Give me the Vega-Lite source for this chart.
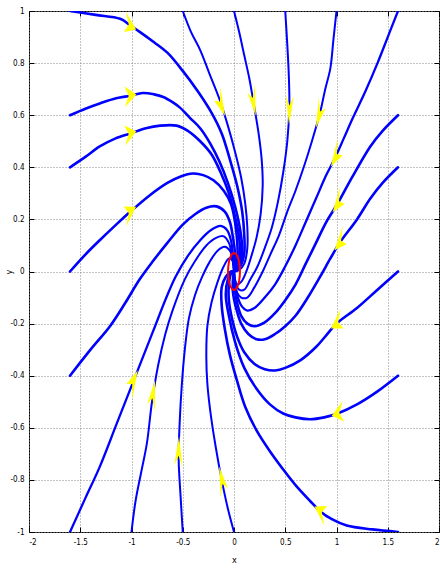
{
 "$schema": "https://vega.github.io/schema/vega-lite/v6.json",
 "width": 410, "height": 521,
 "autosize": {"type": "none"},
 "padding": {"left": 29, "top": 11, "right": 1, "bottom": 38},
 "background": "white",
 "config": {
  "view": {"stroke": "black", "strokeWidth": 1},
  "axis": {"labelFont": "Liberation Sans Narrow, DejaVu Sans Condensed, sans-serif", "labelFontSize": 8, "labelColor": "black",
           "titleFont": "Liberation Sans Narrow, DejaVu Sans Condensed, sans-serif", "titleFontSize": 9, "titleFontWeight": "normal", "titleColor": "black",
           "tickColor": "black", "domainColor": "black"}
 },
 "datasets": {
  "traj": [
   {"t":"L1","set":"A","x":-1.6,"y":1.0},{"t":"L1","set":"A","x":-1.35,"y":0.985},{"t":"L1","set":"A","x":-1.11,"y":0.97},{"t":"L1","set":"A","x":-1.01,"y":0.944},{"t":"L1","set":"A","x":-0.92,"y":0.92},{"t":"L1","set":"A","x":-0.78,"y":0.88},{"t":"L1","set":"A","x":-0.65,"y":0.84},{"t":"L1","set":"A","x":-0.5,"y":0.77},{"t":"L1","set":"A","x":-0.35,"y":0.69},{"t":"L1","set":"A","x":-0.22,"y":0.61},{"t":"L1","set":"A","x":-0.12,"y":0.53},{"t":"L1","set":"A","x":-0.04,"y":0.43},{"t":"L1","set":"A","x":0.03,"y":0.33},{"t":"L1","set":"A","x":0.08,"y":0.23},{"t":"L1","set":"A","x":0.1,"y":0.14},{"t":"L1","set":"A","x":0.1,"y":0.07},{"t":"L1","set":"A","x":0.06,"y":0.02},{"t":"L1","set":"A","x":0,"y":0},
   {"t":"L06","set":"A","x":-1.6,"y":0.6},{"t":"L06","set":"A","x":-1.45,"y":0.625},{"t":"L06","set":"A","x":-1.31,"y":0.645},{"t":"L06","set":"A","x":-1.15,"y":0.665},{"t":"L06","set":"A","x":-1.01,"y":0.675},{"t":"L06","set":"A","x":-0.89,"y":0.685},{"t":"L06","set":"A","x":-0.78,"y":0.68},{"t":"L06","set":"A","x":-0.69,"y":0.67},{"t":"L06","set":"A","x":-0.6,"y":0.65},{"t":"L06","set":"A","x":-0.53,"y":0.63},{"t":"L06","set":"A","x":-0.43,"y":0.59},{"t":"L06","set":"A","x":-0.33,"y":0.55},{"t":"L06","set":"A","x":-0.23,"y":0.49},{"t":"L06","set":"A","x":-0.14,"y":0.42},{"t":"L06","set":"A","x":-0.06,"y":0.34},{"t":"L06","set":"A","x":0.01,"y":0.25},{"t":"L06","set":"A","x":0.06,"y":0.16},{"t":"L06","set":"A","x":0.08,"y":0.08},{"t":"L06","set":"A","x":0.05,"y":0.02},{"t":"L06","set":"A","x":0,"y":0},
   {"t":"L04","set":"A","x":-1.6,"y":0.4},{"t":"L04","set":"A","x":-1.45,"y":0.44},{"t":"L04","set":"A","x":-1.31,"y":0.48},{"t":"L04","set":"A","x":-1.16,"y":0.51},{"t":"L04","set":"A","x":-1.01,"y":0.53},{"t":"L04","set":"A","x":-0.86,"y":0.55},{"t":"L04","set":"A","x":-0.72,"y":0.56},{"t":"L04","set":"A","x":-0.56,"y":0.56},{"t":"L04","set":"A","x":-0.45,"y":0.54},{"t":"L04","set":"A","x":-0.33,"y":0.5},{"t":"L04","set":"A","x":-0.22,"y":0.45},{"t":"L04","set":"A","x":-0.13,"y":0.38},{"t":"L04","set":"A","x":-0.05,"y":0.3},{"t":"L04","set":"A","x":0.01,"y":0.21},{"t":"L04","set":"A","x":0.05,"y":0.13},{"t":"L04","set":"A","x":0.06,"y":0.06},{"t":"L04","set":"A","x":0.04,"y":0.02},{"t":"L04","set":"A","x":0,"y":0},
   {"t":"L0","set":"A","x":-1.6,"y":0},{"t":"L0","set":"A","x":-1.45,"y":0.065},{"t":"L0","set":"A","x":-1.31,"y":0.12},{"t":"L0","set":"A","x":-1.15,"y":0.18},{"t":"L0","set":"A","x":-1.01,"y":0.23},{"t":"L0","set":"A","x":-0.83,"y":0.29},{"t":"L0","set":"A","x":-0.65,"y":0.34},{"t":"L0","set":"A","x":-0.52,"y":0.365},{"t":"L0","set":"A","x":-0.4,"y":0.376},{"t":"L0","set":"A","x":-0.3,"y":0.37},{"t":"L0","set":"A","x":-0.2,"y":0.35},{"t":"L0","set":"A","x":-0.1,"y":0.31},{"t":"L0","set":"A","x":-0.03,"y":0.26},{"t":"L0","set":"A","x":0.01,"y":0.19},{"t":"L0","set":"A","x":0.03,"y":0.12},{"t":"L0","set":"A","x":0.035,"y":0.06},{"t":"L0","set":"A","x":0.02,"y":0.02},{"t":"L0","set":"A","x":0,"y":0},
   {"t":"Lm04","set":"A","x":-1.6,"y":-0.4},{"t":"Lm04","set":"A","x":-1.4,"y":-0.3},{"t":"Lm04","set":"A","x":-1.21,"y":-0.21},{"t":"Lm04","set":"A","x":-1.06,"y":-0.12},{"t":"Lm04","set":"A","x":-0.92,"y":-0.03},{"t":"Lm04","set":"A","x":-0.79,"y":0.04},{"t":"Lm04","set":"A","x":-0.65,"y":0.11},{"t":"Lm04","set":"A","x":-0.5,"y":0.18},{"t":"Lm04","set":"A","x":-0.38,"y":0.22},{"t":"Lm04","set":"A","x":-0.27,"y":0.245},{"t":"Lm04","set":"A","x":-0.17,"y":0.25},{"t":"Lm04","set":"A","x":-0.09,"y":0.23},{"t":"Lm04","set":"A","x":-0.04,"y":0.19},{"t":"Lm04","set":"A","x":-0.01,"y":0.13},{"t":"Lm04","set":"A","x":0.01,"y":0.07},{"t":"Lm04","set":"A","x":0.01,"y":0.02},{"t":"Lm04","set":"A","x":0,"y":0},
   {"t":"Bm16","set":"B","x":-1.6,"y":-1},{"t":"Bm16","set":"B","x":-1.45,"y":-0.87},{"t":"Bm16","set":"B","x":-1.31,"y":-0.75},{"t":"Bm16","set":"B","x":-1.15,"y":-0.59},{"t":"Bm16","set":"B","x":-0.98,"y":-0.42},{"t":"Bm16","set":"B","x":-0.79,"y":-0.23},{"t":"Bm16","set":"B","x":-0.66,"y":-0.1},{"t":"Bm16","set":"B","x":-0.57,"y":-0.02},{"t":"Bm16","set":"B","x":-0.45,"y":0.06},{"t":"Bm16","set":"B","x":-0.33,"y":0.12},{"t":"Bm16","set":"B","x":-0.22,"y":0.16},{"t":"Bm16","set":"B","x":-0.13,"y":0.175},{"t":"Bm16","set":"B","x":-0.07,"y":0.16},{"t":"Bm16","set":"B","x":-0.03,"y":0.12},{"t":"Bm16","set":"B","x":-0.01,"y":0.06},{"t":"Bm16","set":"B","x":0,"y":0},
   {"t":"Bm1","set":"C","x":-1,"y":-1},{"t":"Bm1","set":"C","x":-0.96,"y":-0.88},{"t":"Bm1","set":"C","x":-0.9,"y":-0.76},{"t":"Bm1","set":"C","x":-0.85,"y":-0.66},{"t":"Bm1","set":"C","x":-0.8,"y":-0.5},{"t":"Bm1","set":"C","x":-0.74,"y":-0.36},{"t":"Bm1","set":"C","x":-0.67,"y":-0.24},{"t":"Bm1","set":"C","x":-0.6,"y":-0.15},{"t":"Bm1","set":"C","x":-0.48,"y":-0.03},{"t":"Bm1","set":"C","x":-0.38,"y":0.04},{"t":"Bm1","set":"C","x":-0.27,"y":0.1},{"t":"Bm1","set":"C","x":-0.17,"y":0.13},{"t":"Bm1","set":"C","x":-0.1,"y":0.135},{"t":"Bm1","set":"C","x":-0.05,"y":0.11},{"t":"Bm1","set":"C","x":-0.02,"y":0.06},{"t":"Bm1","set":"C","x":0,"y":0},
   {"t":"Bm05","set":"C","x":-0.5,"y":-1},{"t":"Bm05","set":"C","x":-0.52,"y":-0.87},{"t":"Bm05","set":"C","x":-0.54,"y":-0.72},{"t":"Bm05","set":"C","x":-0.53,"y":-0.58},{"t":"Bm05","set":"C","x":-0.51,"y":-0.44},{"t":"Bm05","set":"C","x":-0.48,"y":-0.3},{"t":"Bm05","set":"C","x":-0.44,"y":-0.18},{"t":"Bm05","set":"C","x":-0.38,"y":-0.09},{"t":"Bm05","set":"C","x":-0.31,"y":-0.02},{"t":"Bm05","set":"C","x":-0.24,"y":0.035},{"t":"Bm05","set":"C","x":-0.16,"y":0.08},{"t":"Bm05","set":"C","x":-0.09,"y":0.095},{"t":"Bm05","set":"C","x":-0.04,"y":0.08},{"t":"Bm05","set":"C","x":-0.01,"y":0.045},{"t":"Bm05","set":"C","x":0,"y":0},
   {"t":"B0","set":"C","x":0,"y":-1},{"t":"B0","set":"C","x":-0.06,"y":-0.91},{"t":"B0","set":"C","x":-0.12,"y":-0.8},{"t":"B0","set":"C","x":-0.18,"y":-0.67},{"t":"B0","set":"C","x":-0.23,"y":-0.54},{"t":"B0","set":"C","x":-0.26,"y":-0.43},{"t":"B0","set":"C","x":-0.27,"y":-0.33},{"t":"B0","set":"C","x":-0.26,"y":-0.21},{"t":"B0","set":"C","x":-0.22,"y":-0.12},{"t":"B0","set":"C","x":-0.16,"y":-0.04},{"t":"B0","set":"C","x":-0.1,"y":0.02},{"t":"B0","set":"C","x":-0.05,"y":0.05},{"t":"B0","set":"C","x":-0.02,"y":0.045},{"t":"B0","set":"C","x":0,"y":0.02},{"t":"B0","set":"C","x":0,"y":0},
   {"t":"Rm1","set":"A","x":1.6,"y":-1},{"t":"Rm1","set":"A","x":1.35,"y":-0.99},{"t":"Rm1","set":"A","x":1.1,"y":-0.975},{"t":"Rm1","set":"A","x":0.95,"y":-0.95},{"t":"Rm1","set":"A","x":0.84,"y":-0.92},{"t":"Rm1","set":"A","x":0.74,"y":-0.88},{"t":"Rm1","set":"A","x":0.6,"y":-0.82},{"t":"Rm1","set":"A","x":0.48,"y":-0.76},{"t":"Rm1","set":"A","x":0.35,"y":-0.69},{"t":"Rm1","set":"A","x":0.22,"y":-0.61},{"t":"Rm1","set":"A","x":0.11,"y":-0.52},{"t":"Rm1","set":"A","x":0.03,"y":-0.42},{"t":"Rm1","set":"A","x":-0.04,"y":-0.32},{"t":"Rm1","set":"A","x":-0.09,"y":-0.22},{"t":"Rm1","set":"A","x":-0.12,"y":-0.13},{"t":"Rm1","set":"A","x":-0.12,"y":-0.06},{"t":"Rm1","set":"A","x":-0.08,"y":-0.02},{"t":"Rm1","set":"A","x":-0.03,"y":0},{"t":"Rm1","set":"A","x":0,"y":0},
   {"t":"Rm04","set":"A","x":1.6,"y":-0.4},{"t":"Rm04","set":"A","x":1.4,"y":-0.46},{"t":"Rm04","set":"A","x":1.2,"y":-0.51},{"t":"Rm04","set":"A","x":1.01,"y":-0.545},{"t":"Rm04","set":"A","x":0.88,"y":-0.56},{"t":"Rm04","set":"A","x":0.74,"y":-0.567},{"t":"Rm04","set":"A","x":0.6,"y":-0.56},{"t":"Rm04","set":"A","x":0.48,"y":-0.545},{"t":"Rm04","set":"A","x":0.35,"y":-0.51},{"t":"Rm04","set":"A","x":0.22,"y":-0.45},{"t":"Rm04","set":"A","x":0.1,"y":-0.37},{"t":"Rm04","set":"A","x":0.01,"y":-0.27},{"t":"Rm04","set":"A","x":-0.05,"y":-0.17},{"t":"Rm04","set":"A","x":-0.08,"y":-0.09},{"t":"Rm04","set":"A","x":-0.06,"y":-0.03},{"t":"Rm04","set":"A","x":-0.02,"y":0},{"t":"Rm04","set":"A","x":0,"y":0},
   {"t":"R0","set":"A","x":1.6,"y":0},{"t":"R0","set":"A","x":1.4,"y":-0.07},{"t":"R0","set":"A","x":1.2,"y":-0.14},{"t":"R0","set":"A","x":1.0,"y":-0.2},{"t":"R0","set":"A","x":0.9,"y":-0.245},{"t":"R0","set":"A","x":0.8,"y":-0.29},{"t":"R0","set":"A","x":0.65,"y":-0.34},{"t":"R0","set":"A","x":0.5,"y":-0.37},{"t":"R0","set":"A","x":0.4,"y":-0.38},{"t":"R0","set":"A","x":0.3,"y":-0.375},{"t":"R0","set":"A","x":0.2,"y":-0.355},{"t":"R0","set":"A","x":0.1,"y":-0.31},{"t":"R0","set":"A","x":0.03,"y":-0.25},{"t":"R0","set":"A","x":-0.02,"y":-0.18},{"t":"R0","set":"A","x":-0.05,"y":-0.11},{"t":"R0","set":"A","x":-0.05,"y":-0.05},{"t":"R0","set":"A","x":-0.03,"y":-0.01},{"t":"R0","set":"A","x":0,"y":0},
   {"t":"R04","set":"A","x":1.6,"y":0.4},{"t":"R04","set":"A","x":1.45,"y":0.34},{"t":"R04","set":"A","x":1.33,"y":0.28},{"t":"R04","set":"A","x":1.2,"y":0.2},{"t":"R04","set":"A","x":1.03,"y":0.11},{"t":"R04","set":"A","x":0.94,"y":0.05},{"t":"R04","set":"A","x":0.84,"y":-0.02},{"t":"R04","set":"A","x":0.72,"y":-0.1},{"t":"R04","set":"A","x":0.6,"y":-0.17},{"t":"R04","set":"A","x":0.5,"y":-0.21},{"t":"R04","set":"A","x":0.4,"y":-0.24},{"t":"R04","set":"A","x":0.3,"y":-0.26},{"t":"R04","set":"A","x":0.22,"y":-0.26},{"t":"R04","set":"A","x":0.14,"y":-0.24},{"t":"R04","set":"A","x":0.07,"y":-0.2},{"t":"R04","set":"A","x":0.02,"y":-0.14},{"t":"R04","set":"A","x":-0.01,"y":-0.08},{"t":"R04","set":"A","x":-0.01,"y":-0.03},{"t":"R04","set":"A","x":0,"y":0},
   {"t":"R06","set":"A","x":1.6,"y":0.6},{"t":"R06","set":"A","x":1.45,"y":0.54},{"t":"R06","set":"A","x":1.33,"y":0.48},{"t":"R06","set":"A","x":1.15,"y":0.36},{"t":"R06","set":"A","x":1.01,"y":0.26},{"t":"R06","set":"A","x":0.9,"y":0.19},{"t":"R06","set":"A","x":0.8,"y":0.11},{"t":"R06","set":"A","x":0.7,"y":0.03},{"t":"R06","set":"A","x":0.6,"y":-0.05},{"t":"R06","set":"A","x":0.5,"y":-0.11},{"t":"R06","set":"A","x":0.4,"y":-0.16},{"t":"R06","set":"A","x":0.3,"y":-0.195},{"t":"R06","set":"A","x":0.2,"y":-0.21},{"t":"R06","set":"A","x":0.13,"y":-0.2},{"t":"R06","set":"A","x":0.07,"y":-0.17},{"t":"R06","set":"A","x":0.03,"y":-0.12},{"t":"R06","set":"A","x":0.01,"y":-0.07},{"t":"R06","set":"A","x":0,"y":-0.03},{"t":"R06","set":"A","x":0,"y":0},
   {"t":"T16","set":"B","x":1.6,"y":1},{"t":"T16","set":"B","x":1.5,"y":0.9},{"t":"T16","set":"B","x":1.4,"y":0.8},{"t":"T16","set":"B","x":1.28,"y":0.69},{"t":"T16","set":"B","x":1.16,"y":0.59},{"t":"T16","set":"B","x":1.07,"y":0.51},{"t":"T16","set":"B","x":0.99,"y":0.44},{"t":"T16","set":"B","x":0.9,"y":0.37},{"t":"T16","set":"B","x":0.8,"y":0.28},{"t":"T16","set":"B","x":0.7,"y":0.19},{"t":"T16","set":"B","x":0.6,"y":0.1},{"t":"T16","set":"B","x":0.5,"y":0.02},{"t":"T16","set":"B","x":0.4,"y":-0.05},{"t":"T16","set":"B","x":0.3,"y":-0.1},{"t":"T16","set":"B","x":0.2,"y":-0.14},{"t":"T16","set":"B","x":0.13,"y":-0.15},{"t":"T16","set":"B","x":0.07,"y":-0.13},{"t":"T16","set":"B","x":0.03,"y":-0.09},{"t":"T16","set":"B","x":0.01,"y":-0.05},{"t":"T16","set":"B","x":0,"y":0},
   {"t":"T1","set":"C","x":1,"y":1},{"t":"T1","set":"C","x":0.97,"y":0.89},{"t":"T1","set":"C","x":0.94,"y":0.78},{"t":"T1","set":"C","x":0.89,"y":0.7},{"t":"T1","set":"C","x":0.84,"y":0.61},{"t":"T1","set":"C","x":0.76,"y":0.5},{"t":"T1","set":"C","x":0.68,"y":0.4},{"t":"T1","set":"C","x":0.6,"y":0.31},{"t":"T1","set":"C","x":0.52,"y":0.23},{"t":"T1","set":"C","x":0.44,"y":0.14},{"t":"T1","set":"C","x":0.36,"y":0.07},{"t":"T1","set":"C","x":0.28,"y":0.0},{"t":"T1","set":"C","x":0.2,"y":-0.06},{"t":"T1","set":"C","x":0.13,"y":-0.1},{"t":"T1","set":"C","x":0.07,"y":-0.1},{"t":"T1","set":"C","x":0.03,"y":-0.08},{"t":"T1","set":"C","x":0.01,"y":-0.04},{"t":"T1","set":"C","x":0,"y":0},
   {"t":"T05","set":"C","x":0.5,"y":1},{"t":"T05","set":"C","x":0.52,"y":0.87},{"t":"T05","set":"C","x":0.535,"y":0.75},{"t":"T05","set":"C","x":0.54,"y":0.63},{"t":"T05","set":"C","x":0.52,"y":0.5},{"t":"T05","set":"C","x":0.48,"y":0.38},{"t":"T05","set":"C","x":0.43,"y":0.27},{"t":"T05","set":"C","x":0.37,"y":0.17},{"t":"T05","set":"C","x":0.3,"y":0.09},{"t":"T05","set":"C","x":0.23,"y":0.02},{"t":"T05","set":"C","x":0.16,"y":-0.03},{"t":"T05","set":"C","x":0.1,"y":-0.07},{"t":"T05","set":"C","x":0.05,"y":-0.07},{"t":"T05","set":"C","x":0.02,"y":-0.05},{"t":"T05","set":"C","x":0,"y":-0.02},{"t":"T05","set":"C","x":0,"y":0},
   {"t":"T0","set":"C","x":0,"y":1},{"t":"T0","set":"C","x":0.05,"y":0.92},{"t":"T0","set":"C","x":0.1,"y":0.83},{"t":"T0","set":"C","x":0.15,"y":0.74},{"t":"T0","set":"C","x":0.19,"y":0.65},{"t":"T0","set":"C","x":0.24,"y":0.53},{"t":"T0","set":"C","x":0.27,"y":0.43},{"t":"T0","set":"C","x":0.28,"y":0.33},{"t":"T0","set":"C","x":0.26,"y":0.22},{"t":"T0","set":"C","x":0.22,"y":0.13},{"t":"T0","set":"C","x":0.17,"y":0.06},{"t":"T0","set":"C","x":0.12,"y":0.0},{"t":"T0","set":"C","x":0.07,"y":-0.04},{"t":"T0","set":"C","x":0.03,"y":-0.05},{"t":"T0","set":"C","x":0.01,"y":-0.03},{"t":"T0","set":"C","x":0,"y":0},
   {"t":"Tm05","set":"C","x":-0.5,"y":1},{"t":"Tm05","set":"C","x":-0.42,"y":0.92},{"t":"Tm05","set":"C","x":-0.33,"y":0.85},{"t":"Tm05","set":"C","x":-0.24,"y":0.76},{"t":"Tm05","set":"C","x":-0.14,"y":0.66},{"t":"Tm05","set":"C","x":-0.06,"y":0.56},{"t":"Tm05","set":"C","x":0.01,"y":0.46},{"t":"Tm05","set":"C","x":0.07,"y":0.36},{"t":"Tm05","set":"C","x":0.11,"y":0.26},{"t":"Tm05","set":"C","x":0.13,"y":0.17},{"t":"Tm05","set":"C","x":0.13,"y":0.09},{"t":"Tm05","set":"C","x":0.1,"y":0.03},{"t":"Tm05","set":"C","x":0.05,"y":0.005},{"t":"Tm05","set":"C","x":0,"y":0}
  ],
  "ring": [
   {"x":0.058,"y":0},{"x":0.056,"y":0.018},{"x":0.05,"y":0.036},{"x":0.041,"y":0.05},{"x":0.029,"y":0.061},{"x":0.015,"y":0.069},{"x":0,"y":0.071},{"x":-0.015,"y":0.069},{"x":-0.029,"y":0.061},{"x":-0.041,"y":0.05},{"x":-0.05,"y":0.036},{"x":-0.056,"y":0.018},{"x":-0.058,"y":0},{"x":-0.056,"y":-0.018},{"x":-0.05,"y":-0.036},{"x":-0.041,"y":-0.05},{"x":-0.029,"y":-0.061},{"x":-0.015,"y":-0.069},{"x":0,"y":-0.071},{"x":0.015,"y":-0.069},{"x":0.029,"y":-0.061},{"x":0.041,"y":-0.05},{"x":0.05,"y":-0.036},{"x":0.056,"y":-0.018},{"x":0.058,"y":0}
  ],
  "arrows": [
   {"id":"a1","x":-1.01,"y":0.944},{"id":"a2","x":-1.01,"y":0.675},{"id":"a3","x":-1.01,"y":0.53},{"id":"a4","x":-1.01,"y":0.23},
   {"id":"a5","x":-0.98,"y":-0.42},{"id":"a6","x":-0.79,"y":-0.47},{"id":"a7","x":-0.54,"y":-0.69},{"id":"a8","x":-0.12,"y":-0.8},
   {"id":"a9","x":-0.125,"y":0.64},{"id":"a10","x":0.19,"y":0.65},{"id":"a11","x":0.54,"y":0.62},{"id":"a12","x":0.83,"y":0.6},
   {"id":"a13","x":0.99,"y":0.44},{"id":"a14","x":1.01,"y":0.26},{"id":"a15","x":1.03,"y":0.11},{"id":"a16","x":1.0,"y":-0.2},
   {"id":"a17","x":1.01,"y":-0.545},{"id":"a18","x":0.84,"y":-0.92}
  ]
 },
 "resolve": {"axis": {"x": "independent", "y": "independent"}},
 "layer": [
  {
   "data": {"name": "traj"},
   "mark": {"type": "line", "color": "#0000ff", "clip": true, "strokeJoin": "round", "strokeCap": "round", "interpolate": "catmull-rom"},
   "encoding": {
    "x": {"field": "x", "type": "quantitative", "scale": {"domain": [-2, 2], "nice": false, "zero": false},
          "axis": {"orient": "bottom", "values": [-2, -1.5, -1, -0.5, 0, 0.5, 1, 1.5, 2], "labelExpr": "toString(datum.value)",
                   "tickSize": -5, "labelPadding": 11, "domain": false, "grid": true, "gridColor": "#888888", "gridDash": [1, 2], "gridWidth": 1,
                   "title": "x", "titlePadding": 9}},
    "y": {"field": "y", "type": "quantitative", "scale": {"domain": [-1, 1], "nice": false, "zero": false},
          "axis": {"orient": "left", "values": [-1, -0.8, -0.6, -0.4, -0.2, 0, 0.2, 0.4, 0.6, 0.8, 1], "labelExpr": "toString(datum.value)",
                   "tickSize": -5, "labelPadding": 10, "domain": false, "grid": true, "gridColor": "#888888", "gridDash": [1, 2], "gridWidth": 1,
                   "title": "y", "titleX": -21, "titleBaseline": "middle"}},
    "detail": {"field": "t", "type": "nominal"},
    "strokeWidth": {"field": "set", "type": "nominal", "scale": {"domain": ["A", "B", "C"], "range": [2.6, 2.0, 1.4]}, "legend": null},
    "order": {"value": null}
   }
  },
  {
   "data": {"name": "ring"},
   "mark": {"type": "line", "color": "#ff0000", "strokeWidth": 2},
   "encoding": {
    "x": {"field": "x", "type": "quantitative", "scale": {"domain": [-2, 2], "nice": false, "zero": false},
          "axis": {"orient": "top", "values": [-2, -1.5, -1, -0.5, 0, 0.5, 1, 1.5, 2], "labels": false, "tickSize": -5, "domain": false, "grid": false, "title": null}},
    "y": {"field": "y", "type": "quantitative", "scale": {"domain": [-1, 1], "nice": false, "zero": false},
          "axis": {"orient": "right", "values": [-1, -0.8, -0.6, -0.4, -0.2, 0, 0.2, 0.4, 0.6, 0.8, 1], "labels": false, "tickSize": -5, "domain": false, "grid": false, "title": null}},
    "order": {"value": null}
   }
  },
  {
   "data": {"name": "arrows"},
   "mark": {"type": "point", "filled": true, "size": 4, "color": "#ffff00", "opacity": 1, "strokeWidth": 0},
   "encoding": {
    "x": {"field": "x", "type": "quantitative", "scale": {"domain": [-2, 2], "nice": false, "zero": false}, "axis": null},
    "y": {"field": "y", "type": "quantitative", "scale": {"domain": [-1, 1], "nice": false, "zero": false}, "axis": null},
    "shape": {"field": "id", "type": "nominal", "legend": null, "scale": {
      "domain": ["a1","a2","a3","a4","a5","a6","a7","a8","a9","a10","a11","a12","a13","a14","a15","a16","a17","a18"],
      "range": [
       "M5.7,3.8L-4.7,-13.9L-1.7,-1.1L-6.7,6.3Z",
       "M5.9,-1.2L-6.2,-9.3L-1.8,0.3L-5.6,11.5Z",
       "M5.8,-2L-6.4,-8.3L-1.8,0.6L-5.3,12.3Z",
       "M5.6,-4.9L-6.9,-5L-1.7,1.5L-4.2,14.7Z",
       "M4.2,-10.6L-7.1,3.2L-1.3,3.2L-1.3,18Z",
       "M2,-14.1L-5.9,10.5L-0.6,4.2L1.8,17.7Z",
       "M0.4,-15L-4.5,14.2L-0.1,4.5L3.7,15.7Z",
       "M-2.6,-13.4L-1,18.1L0.8,4L6.3,8.7Z",
       "M3.9,11.1L-0.9,-18.1L-1.2,-3.3L-7,-4.1Z",
       "M2.3,13.8L1.4,-17.9L-0.7,-4.1L-6.1,-9.6Z",
       "M-0.3,15L4.4,-14.3L0.1,-4.5L-3.7,-15.6Z",
       "M-3.2,12.6L6.6,-6.9L1,-3.8L-0.2,-18.2Z",
       "M-4.6,9.5L7.2,-1.5L1.4,-2.9L1.9,-17.6Z",
       "M-4.9,8.4L7.2,0.2L1.5,-2.5L2.6,-17Z",
       "M-5.1,7.5L7.2,1.5L1.5,-2.2L3.1,-16.5Z",
       "M-5.6,5L6.9,4.9L1.7,-1.5L4.2,-14.8Z",
       "M-5.8,2.3L6.5,8L1.7,-0.7L5.2,-12.6Z",
       "M-5.6,-4.7L4.3,14.6L1.7,1.4L6.9,-5.2Z"
      ]}}
   }
  }
 ]
}
